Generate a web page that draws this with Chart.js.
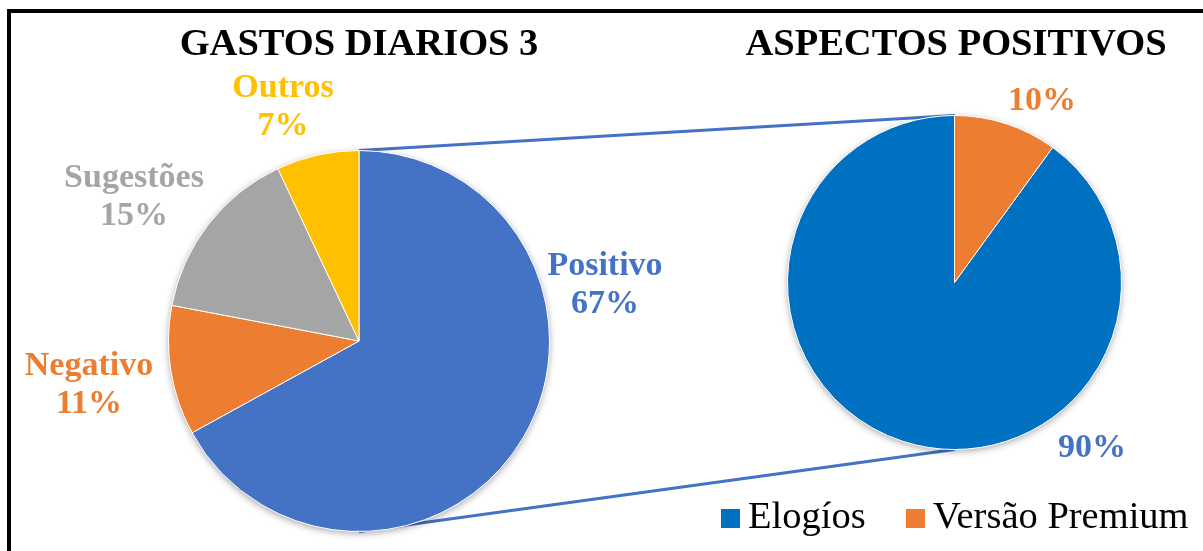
<!DOCTYPE html>
<html><head><meta charset="utf-8">
<script src="https://cdn.jsdelivr.net/npm/chart.js@4.4.0/dist/chart.umd.min.js"></script>
<style>
html,body{margin:0;padding:0;background:#fff;overflow:hidden}
#wrap{position:relative;width:1203px;height:551px}
canvas{position:absolute;left:0;top:0}
#main{z-index:1}#sub{z-index:2}
</style></head><body>
<div id="wrap"><canvas id="main" width="1203" height="551"></canvas><canvas id="sub" width="1203" height="551"></canvas></div>
<script>
// ---- data ----
const mainTitle = 'GASTOS DIARIOS 3';
const subTitle = 'ASPECTOS POSITIVOS';
const mainCategories = ['Positivo', 'Negativo', 'Sugestões', 'Outros'];
const mainValues = [67, 11, 15, 7];
const subCategories = ['Elogíos', 'Versão Premium'];
const subValues = [90, 10];

// ---- styles ----
const mainColors = ['#4472C4', '#ED7D31', '#A5A5A5', '#FFC000'];
const subColors = ['#0070C0', '#ED7D31'];
const subLabelColors = ['#4472C4', '#ED7D31'];
const SERIF = '"Liberation Serif", "Times New Roman", serif';

const subTotal = subValues.reduce((a, b) => a + b, 0);
const subRotation = subValues[subValues.length - 1] / subTotal * 360;

function pieGeom(chart) {
  const a = chart.getDatasetMeta(0).data[0];
  return {x: a.x, y: a.y, r: a.outerRadius};
}

const pieDecor = {
  id: 'pieDecor',
  beforeDatasetsDraw(chart, args, opts) {
    const ctx = chart.ctx;
    const g = pieGeom(chart);
    if (opts.frame) {
      ctx.save();
      ctx.fillStyle = '#000';
      ctx.fillRect(7, 9, 1203 - 7, 4);
      ctx.fillRect(7, 9, 4, 551 - 9);
      ctx.restore();
    }
    if (opts.linkTo) {
      const s = pieGeom(opts.linkTo());
      ctx.save();
      ctx.strokeStyle = '#4472C4';
      ctx.lineWidth = 3;
      ctx.beginPath();
      ctx.moveTo(g.x, g.y - g.r);
      ctx.lineTo(s.x, s.y - s.r);
      ctx.moveTo(g.x, g.y + g.r);
      ctx.lineTo(s.x, s.y + s.r);
      ctx.stroke();
      ctx.restore();
    }
    // soft shadow
    ctx.save();
    ctx.shadowColor = 'rgba(0,0,0,0.35)';
    ctx.shadowBlur = 7;
    ctx.shadowOffsetY = 2;
    ctx.fillStyle = '#fff';
    ctx.beginPath();
    ctx.arc(g.x, g.y, g.r, 0, Math.PI * 2);
    ctx.fill();
    ctx.restore();
  },
  afterDraw(chart, args, opts) {
    const ctx = chart.ctx;
    const g = pieGeom(chart);
    ctx.save();
    // title
    ctx.font = 'bold 38.5px ' + SERIF;
    ctx.fillStyle = '#000';
    ctx.textAlign = 'center';
    ctx.textBaseline = 'alphabetic';
    ctx.fillText(opts.title, opts.titleX, 55);
    // slice labels
    const ds = chart.data.datasets[0];
    ctx.font = 'bold 34px ' + SERIF;
    opts.anchors.forEach((p, i) => {
      ctx.fillStyle = opts.labelColors[i];
      const pct = ds.data[i] + '%';
      if (opts.showName) {
        ctx.fillText(chart.data.labels[i], p.x, p.y);
        ctx.fillText(pct, p.x, p.y + 38);
      } else {
        ctx.fillText(pct, p.x, p.y);
      }
    });
    // legend
    if (opts.legend) {
      const L = opts.legend;
      ctx.font = '38.5px ' + SERIF;
      ctx.textAlign = 'left';
      chart.data.labels.forEach((lab, i) => {
        const x = L.xs[i];
        ctx.fillStyle = ds.backgroundColor[i];
        ctx.fillRect(x, L.y - 19, 19, 19);
        ctx.fillStyle = '#000';
        ctx.fillText(lab, x + 27, L.y);
      });
    }
    ctx.restore();
  }
};

const subChart = new Chart(document.getElementById('sub'), {
  type: 'pie',
  data: {
    labels: subCategories,
    datasets: [{data: subValues, backgroundColor: subColors, borderColor: '#fff', borderWidth: 1}]
  },
  options: {
    responsive: false, animation: false, devicePixelRatio: 1,
    rotation: subRotation,
    layout: {padding: {left: 787, top: 115, right: 81, bottom: 101}},
    plugins: {
      legend: {display: false}, tooltip: {enabled: false},
      pieDecor: {
        title: subTitle, titleX: 956, showName: false,
        labelColors: subLabelColors,
        anchors: [{x: 1092, y: 457}, {x: 1042, y: 110}],
        legend: {xs: [721, 906], y: 528}
      }
    }
  },
  plugins: [pieDecor]
});

const mainChart = new Chart(document.getElementById('main'), {
  type: 'pie',
  data: {
    labels: mainCategories,
    datasets: [{data: mainValues, backgroundColor: mainColors, borderColor: '#fff', borderWidth: 1}]
  },
  options: {
    responsive: false, animation: false, devicePixelRatio: 1,
    rotation: 0,
    layout: {padding: {left: 168, top: 150, right: 653, bottom: 19}},
    plugins: {
      legend: {display: false}, tooltip: {enabled: false},
      pieDecor: {
        title: mainTitle, titleX: 359, showName: true, frame: true,
        linkTo: () => subChart,
        labelColors: mainColors,
        anchors: [{x: 605, y: 275}, {x: 89, y: 375}, {x: 134, y: 187}, {x: 283, y: 97}]
      }
    }
  },
  plugins: [pieDecor]
});
</script>
</body></html>
